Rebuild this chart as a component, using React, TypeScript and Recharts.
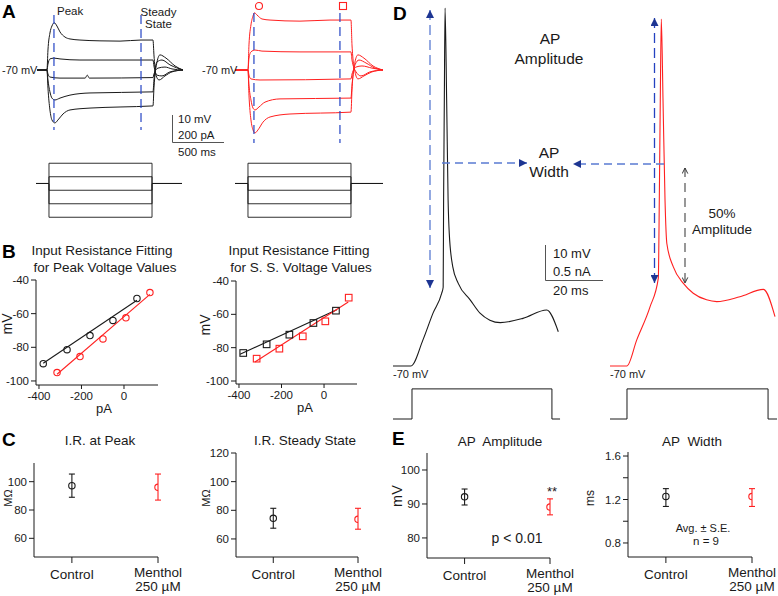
import React from "react";
import { ComposedChart, Line, Scatter, ErrorBar, XAxis, YAxis, ReferenceLine } from "recharts";

const FONT = "'Liberation Sans', Arial, Helvetica, sans-serif";
const INK = "#1a1a1a";
const RED = "#ff2020";
const BLUE = "#2444c4";

type Pair = [number, number];

// ---- A: voltage responses to current steps (ms, mV) ----
const ctlTraces: Pair[][] = [
  [[-94, -70], [0, -70], [9.4, -62.6], [28, -56.3], [47, -53.7], [69, -52.5], [94, -53.7], [123, -55.9], [170, -57.8], [217, -58.5], [311, -58.9], [500, -59.2], [689, -59.3], [887, -58.9], [1000, -58.9], [1009, -64.4], [1028, -71.9], [1057, -73.7], [1113, -72.2], [1179, -70.7], [1283, -70]],
  [[-94, -70], [0, -70], [9.4, -67.8], [28, -65.9], [66, -65.6], [123, -65.9], [311, -66.3], [1000, -66.3], [1009, -68.5], [1038, -71.9], [1085, -72.2], [1160, -70.7], [1283, -70]],
  [[-94, -70], [0, -70], [9.4, -71.5], [28, -72.6], [123, -73], [360, -73], [380, -71.9], [400, -73], [1000, -72.8], [1009, -71.5], [1047, -69.3], [1113, -68.9], [1179, -69.6], [1283, -70]],
  [[-94, -70], [0, -70], [9.4, -73.7], [28, -78.1], [47, -80.4], [75, -81.1], [123, -80.4], [217, -79.3], [406, -78.5], [1000, -78.1], [1009, -73.7], [1038, -67], [1085, -66.3], [1160, -68.1], [1283, -70]],
  [[-94, -70], [0, -70], [9.4, -76.7], [28, -84.8], [47, -88.5], [75, -89.6], [104, -88.5], [151, -86.3], [217, -84.8], [406, -84.1], [689, -83.7], [1000, -83.3], [1009, -76.7], [1038, -67], [1066, -64.4], [1123, -65.6], [1208, -68.5], [1283, -70]],
];
const menTraces: Pair[][] = [
  [[-126, -70], [0, -70], [9.7, -60.7], [29, -53.3], [49, -50], [63, -48.8], [87, -49.6], [136, -51.1], [214, -51.5], [505, -51.9], [796, -51.5], [1000, -51.5], [1010, -60.7], [1039, -70.7], [1068, -73.3], [1126, -72.2], [1204, -70.7], [1311, -70]],
  [[-126, -70], [0, -70], [9.7, -65.6], [29, -63.3], [68, -62.6], [136, -63], [505, -63.3], [1000, -63.3], [1010, -66.3], [1049, -70.7], [1097, -72.2], [1184, -70.7], [1311, -70]],
  [[-126, -70], [0, -70], [9.7, -71.9], [29, -73.3], [117, -73.7], [1000, -73.3], [1010, -71.5], [1049, -68.9], [1107, -68.5], [1204, -69.3], [1311, -70]],
  [[-126, -70], [0, -70], [9.7, -75.6], [29, -81.1], [49, -84.1], [68, -84.8], [107, -83.7], [165, -81.9], [311, -80.7], [1000, -80.4], [1010, -75.6], [1039, -68.1], [1078, -66.3], [1146, -67.4], [1233, -69.3], [1311, -70]],
  [[-126, -70], [0, -70], [9.7, -79.3], [29, -88.5], [49, -92.2], [68, -93.3], [97, -92.2], [146, -89.3], [214, -87.4], [408, -86.3], [1000, -85.6], [1010, -77.4], [1039, -67], [1068, -64.4], [1126, -65.6], [1214, -68.5], [1311, -70]],
];
const stepLevels = [150, 50, -50, -150, -250]; // pA
const stepOn = 0;
const stepOff = 1000;
const peakTimes = [66, 58]; // ms, control / menthol
const ssTimes = [887, 893];

// ---- B: I-V fits ----
const peakCtlPA = [-380, -268, -160, -52, 61];
const peakCtlMV = [-89.7, -81.4, -73, -64, -51];
const peakMenPA = [-315, -207, -99, 9, 122];
const peakMenMV = [-95, -85.5, -75, -62.5, -47.5];
const peakCtlFit: Pair[] = [[-380, -89.5], [61, -52]];
const peakMenFit: Pair[] = [[-315, -96], [122, -48.5]];
const ssCtlPA = [-380, -270, -163, -50, 56];
const ssCtlMV = [-83.2, -78, -72.2, -65.2, -57.8];
const ssMenPA = [-317, -210, -100, 6, 116];
const ssMenMV = [-86.6, -80.6, -73.2, -64.2, -50];
const ssCtlFit: Pair[] = [[-395, -84], [60, -57.2]];
const ssMenFit: Pair[] = [[-325, -88.6], [114, -52.6]];

// ---- C / E: mean, low, high ----
const groups = ["Control", "Menthol"];
const irPeak = [[97.2, 89, 105.4], [96, 87, 105.4]];
const irSteady = [[74.4, 67.5, 81.4], [73.7, 66.8, 81.4]];
const apAmplitude = [[92.1, 89.7, 94.4], [89.1, 86.8, 91.5]];
const apWidth = [[1.228, 1.136, 1.3], [1.227, 1.136, 1.3]];

// ---- D: action potentials (ms, mV) and stimulus (nA) ----
const apCtl: Pair[] = [[0, -70], [6.2, -70], [10.3, -62.6], [13.8, -54.9], [16.8, -49.2], [17.3, -47.5], [17.45, -22.6], [17.7, 6], [17.95, 32.3], [18.5, 6], [19.0, -22.6], [19.4, -32.1], [20.6, -41.6], [22.5, -46.4], [26.6, -51.1], [30, -54.9], [33.4, -56.9], [37, -57.6], [44.8, -56.4], [53, -54], [57, -60.2]];
const apMen: Pair[] = [[0, -70], [5.8, -70], [9.2, -62.6], [13.8, -53.1], [16.66, -44.9], [17.0, -22.6], [17.34, 6], [17.69, 29.1], [18.28, 6], [18.97, -22.6], [19.6, -35], [21.8, -41.6], [25.3, -46.4], [28.7, -49.2], [33.3, -51.1], [36.8, -51.6], [44.8, -50.2], [52.9, -48.1], [56.9, -55.9]];
const stimCtl: Pair[] = [[0, 0], [6.55, 0], [6.55, 0.43], [54.8, 0.43], [54.8, 0], [57.6, 0]];
const stimMen: Pair[] = [[0, 0], [5.86, 0], [5.86, 0.43], [54.5, 0.43], [54.5, 0], [57.6, 0]];

const pts = (arr: Pair[]) => arr.map(([x, y]) => ({ x, y }));
const stepTrace = (level: number, t0: number, t1: number): Pair[] => [
  [t0, 0], [stepOn, 0], [stepOn, level], [stepOff, level], [stepOff, 0], [t1, 0],
];

function TraceBox({ left, top, width, height, xDomain, yDomain, traces, color, curve = "monotone", sw = 1, children }: any) {
  return (
    <div style={{ position: "absolute", left, top, width, height }}>
      <ComposedChart width={width} height={height} margin={{ top: 0, right: 0, bottom: 0, left: 0 }}>
        <XAxis type="number" dataKey="x" domain={xDomain} hide allowDataOverflow />
        <YAxis type="number" domain={yDomain} hide allowDataOverflow />
        {traces.map((tr: Pair[], i: number) => (
          <Line key={i} data={pts(tr)} dataKey="y" type={curve} stroke={color} strokeWidth={sw} dot={false} isAnimationActive={false} />
        ))}
        {children}
      </ComposedChart>
    </div>
  );
}

const ring = (color: string) => (p: any) => (
  <circle cx={p.cx} cy={p.cy} r={3.2} fill="none" stroke={color} strokeWidth={1.1} />
);
const box = (color: string) => (p: any) => (
  <rect x={p.cx - 3.3} y={p.cy - 3.3} width={6.6} height={6.6} fill="none" stroke={color} strokeWidth={1.1} />
);

const tickStyle = { fontSize: 11.5, fill: INK };

function FitPanel({ plot, xDomain, yDomain, ctl, men, ctlFit, menFit, shape }: any) {
  const [px, py, pw, ph] = plot;
  const yw = 36, mt = 12, mr = 20, xh = 30;
  return (
    <div style={{ position: "absolute", left: px - yw, top: py - mt }}>
      <ComposedChart width={yw + pw + mr} height={mt + ph + xh} margin={{ top: mt, right: mr, bottom: 0, left: 0 }}>
        <XAxis type="number" dataKey="x" domain={xDomain} allowDataOverflow ticks={[-400, -200, 0]} interval={0}
          tick={tickStyle} tickSize={4} tickMargin={3} stroke={INK} height={xh} />
        <YAxis type="number" domain={yDomain} allowDataOverflow ticks={[-100, -80, -60, -40]} interval={0}
          tick={tickStyle} tickSize={5} tickMargin={2} stroke={INK} width={yw} />
        <Line data={pts(ctlFit)} dataKey="y" type="linear" stroke={INK} strokeWidth={1.1} dot={false} isAnimationActive={false} />
        <Line data={pts(menFit)} dataKey="y" type="linear" stroke={RED} strokeWidth={1.1} dot={false} isAnimationActive={false} />
        <Scatter data={ctl} dataKey="y" shape={shape(INK)} isAnimationActive={false} />
        <Scatter data={men} dataKey="y" shape={shape(RED)} isAnimationActive={false} />
      </ComposedChart>
    </div>
  );
}

function GroupTick({ x, y, payload }: any) {
  const lines = payload.value === 0 ? [groups[0]] : [groups[1], "250 µM"];
  return (
    <text x={x} y={y} textAnchor="middle" fontSize={13.5} fill={INK}>
      {lines.map((s, i) => (
        <tspan key={s} x={x} dy={lines.length === 1 ? 14 : i === 0 ? 12 : 13.5}>{s}</tspan>
      ))}
    </text>
  );
}

function StatPanel({ plot, yDomain, yTicks, labelled, stats, digits = 0 }: any) {
  const [px, py, pw, ph] = plot;
  const yw = 38, mt = 12, mr = 32, xh = 45;
  const series = stats.map(([m, lo, hi]: number[], i: number) => [{ x: i, y: m, err: [m - lo, hi - m] }]);
  return (
    <div style={{ position: "absolute", left: px - yw, top: py - mt }}>
      <ComposedChart width={yw + pw + mr} height={mt + ph + xh} margin={{ top: mt, right: mr, bottom: 0, left: 0 }}>
        <XAxis type="number" dataKey="x" domain={[-0.44, 1]} allowDataOverflow ticks={[0, 1]} interval={0}
          tick={<GroupTick />} tickSize={6} tickMargin={2} stroke={INK} height={xh} />
        <YAxis type="number" domain={yDomain} allowDataOverflow ticks={yTicks} interval={0}
          tickFormatter={(v: number) => (labelled.some((l: number) => Math.abs(l - v) < 1e-6) ? v.toFixed(digits) : "")}
          tick={tickStyle} tickSize={5} tickMargin={2} stroke={INK} width={yw} />
        {series.map((d: any, i: number) => (
          <Scatter key={i} data={d} dataKey="y" shape={ring(i === 0 ? INK : RED)} isAnimationActive={false}>
            <ErrorBar dataKey="err" direction="y" width={3} stroke={i === 0 ? INK : RED} strokeWidth={1.1} />
          </Scatter>
        ))}
      </ComposedChart>
    </div>
  );
}

function Txt({ x, y, s, size = 12, anchor = "middle", bold = false, rot = false, color = INK }: any) {
  return (
    <text x={x} y={y} fontSize={size} textAnchor={anchor} dominantBaseline="central" fill={color}
      fontWeight={bold ? "bold" : "normal"} style={{ whiteSpace: "pre" }}
      transform={rot ? `rotate(-90 ${x} ${y})` : undefined}>{s}</text>
  );
}

function Letter({ x, y, s }: any) {
  return <text x={x} y={y} fontSize={19} fontWeight="bold" fill="#000">{s}</text>;
}

function Overlay() {
  const lightBlue = "#5a7bd2";
  const navy = "#1d3592";
  return (
    <svg width={778} height={596} style={{ position: "absolute", left: 0, top: 0, pointerEvents: "none" }}>
      <defs>
        <marker id="tri" viewBox="0 0 10 10" refX="10" refY="5" markerWidth="8" markerHeight="8" orient="auto-start-reverse" markerUnits="userSpaceOnUse">
          <path d="M0,0 L10,5 L0,10 z" fill={navy} />
        </marker>
        <marker id="chev" viewBox="0 0 10 10" refX="9" refY="5" markerWidth="7" markerHeight="7" orient="auto-start-reverse" markerUnits="userSpaceOnUse">
          <path d="M1,1 L9,5 L1,9" fill="none" stroke="#333" strokeWidth={1.4} />
        </marker>
      </defs>

      {/* A */}
      <Letter x={2} y={18} s="A" />
      <Txt x={57} y={11} s="Peak" size={11.5} anchor="start" />
      <Txt x={158.5} y={12} s="Steady" size={11.5} />
      <Txt x={158.5} y={24} s="State" size={11.5} />
      <Txt x={2} y={70} s="-70 mV" size={11} anchor="start" />
      <Txt x={202} y={70} s="-70 mV" size={11} anchor="start" />
      <circle cx={259} cy={6} r={3.5} fill="none" stroke={RED} strokeWidth={1.1} />
      <rect x={339.5} y={2.5} width={7} height={7} fill="none" stroke={RED} strokeWidth={1.1} />
      <path d="M172.5,115 L172.5,142.5 L224,142.5" fill="none" stroke="#555" strokeWidth={1} />
      <Txt x={178} y={119} s="10 mV" size={11.5} anchor="start" />
      <Txt x={178} y={135} s="200 pA" size={11.5} anchor="start" />
      <Txt x={178} y={152} s="500 ms" size={11.5} anchor="start" />

      {/* B */}
      <Letter x={2} y={258} s="B" />
      <Txt x={102} y={250} s="Input Resistance Fitting" size={13.5} />
      <Txt x={105} y={267} s="for Peak Voltage Values" size={13.5} />
      <Txt x={299} y={250} s="Input Resistance Fitting" size={13.5} />
      <Txt x={301} y={267} s="for S. S. Voltage Values" size={13.5} />
      <Txt x={7} y={324} s="mV" size={14} rot />
      <Txt x={205} y={325} s="mV" size={14} rot />
      <Txt x={104} y={408} s="pA" size={13} />
      <Txt x={305} y={407} s="pA" size={13} />

      {/* C */}
      <Letter x={2} y={446} s="C" />
      <Txt x={100} y={440} s="I.R. at Peak" size={13.5} />
      <Txt x={305} y={440} s="I.R. Steady State" size={13.5} />
      <Txt x={7.5} y={498} s="MΩ" size={11} rot />
      <Txt x={206} y={498} s="MΩ" size={11} rot />

      {/* D */}
      <Letter x={393} y={20} s="D" />
      <line x1={430} y1={10} x2={430} y2={288} stroke={lightBlue} strokeWidth={1.3} strokeDasharray="10 5" markerStart="url(#tri)" markerEnd="url(#tri)" />
      <line x1={654.5} y1={18} x2={654.5} y2={283} stroke="#2442c0" strokeWidth={1.3} strokeDasharray="10 5" markerStart="url(#tri)" markerEnd="url(#tri)" />
      <line x1={442} y1={163} x2={527} y2={163} stroke={lightBlue} strokeWidth={1.3} strokeDasharray="8 5" markerEnd="url(#tri)" />
      <line x1={664} y1={164} x2={573} y2={164} stroke={lightBlue} strokeWidth={1.3} strokeDasharray="8 5" markerEnd="url(#tri)" />
      <line x1={685} y1={168} x2={685} y2={283} stroke="#444" strokeWidth={1.1} strokeDasharray="9 6" markerStart="url(#chev)" markerEnd="url(#chev)" />
      <Txt x={550} y={38} s="AP" size={15.5} />
      <Txt x={549} y={58} s="Amplitude" size={15.5} />
      <Txt x={549} y={152.5} s="AP" size={15.5} />
      <Txt x={549} y={171} s="Width" size={15.5} />
      <Txt x={722} y={213} s="50%" size={13.5} />
      <Txt x={722} y={229} s="Amplitude" size={13.5} />
      <path d="M545.5,245 L545.5,280.5 L603,280.5" fill="none" stroke="#555" strokeWidth={1} />
      <Txt x={553} y={253} s="10 mV" size={13} anchor="start" />
      <Txt x={553} y={271} s="0.5 nA" size={13} anchor="start" />
      <Txt x={553} y={290} s="20 ms" size={13} anchor="start" />
      <Txt x={393} y={374} s="-70 mV" size={11} anchor="start" />
      <Txt x={610} y={374} s="-70 mV" size={11} anchor="start" />

      {/* E */}
      <Letter x={392} y={445} s="E" />
      <Txt x={500} y={441} s="AP  Amplitude" size={13.5} />
      <Txt x={692} y={441} s="AP  Width" size={13.5} />
      <Txt x={397} y={496} s="mV" size={14.5} rot />
      <Txt x={590} y={498} s="ms" size={12} rot />
      <Txt x={552} y={491} s="**" size={13} />
      <Txt x={517} y={538} s="p < 0.01" size={14} />
      <Txt x={703} y={528} s="Avg. ± S.E." size={11} />
      <Txt x={706} y={541} s="n = 9" size={11.5} />
    </svg>
  );
}

export default function App() {
  const aY: [number, number] = [-99.63, -44.07];
  const iY: [number, number] = [-344.4, 248.1];
  const dY: [number, number] = [-74, 34.571];
  const sY: [number, number] = [-0.157, 0.557];
  const dash = "9 5";
  return (
    <div style={{ position: "fixed", left: 0, top: 0, width: 778, height: 596, background: "#fff", fontFamily: FONT, overflow: "hidden" }}>
      {/* A: voltage traces */}
      <TraceBox left={37} top={0} width={146} height={150} xDomain={[-94, 1283]} yDomain={aY} traces={ctlTraces} color={INK}>
        <ReferenceLine segment={[{ x: peakTimes[0], y: -49.6 }, { x: peakTimes[0], y: -92.2 }]} stroke={BLUE} strokeWidth={1.2} strokeDasharray={dash} />
        <ReferenceLine segment={[{ x: ssTimes[0], y: -49.6 }, { x: ssTimes[0], y: -92.2 }]} stroke={BLUE} strokeWidth={1.2} strokeDasharray={dash} />
      </TraceBox>
      <TraceBox left={235} top={0} width={148} height={150} xDomain={[-126, 1311]} yDomain={aY} traces={menTraces} color={RED}>
        <ReferenceLine segment={[{ x: peakTimes[1], y: -48.9 }, { x: peakTimes[1], y: -97 }]} stroke={BLUE} strokeWidth={1.2} strokeDasharray={dash} />
        <ReferenceLine segment={[{ x: ssTimes[1], y: -48.9 }, { x: ssTimes[1], y: -97 }]} stroke={BLUE} strokeWidth={1.2} strokeDasharray={dash} />
      </TraceBox>
      {/* A: current steps */}
      <TraceBox left={36} top={150} width={146} height={80} xDomain={[-126, 1291]} yDomain={iY}
        traces={stepLevels.map((l) => stepTrace(l, -126, 1291))} color={INK} curve="linear" sw={0.9} />
      <TraceBox left={235} top={150} width={148} height={80} xDomain={[-126, 1311]} yDomain={iY}
        traces={stepLevels.map((l) => stepTrace(l, -126, 1311))} color={INK} curve="linear" sw={0.9} />

      {/* B */}
      <FitPanel plot={[36, 280, 122, 105]} xDomain={[-414, 160]} yDomain={[-102.4, -40]}
        ctl={peakCtlPA.map((x, i) => ({ x, y: peakCtlMV[i] }))} men={peakMenPA.map((x, i) => ({ x, y: peakMenMV[i] }))}
        ctlFit={peakCtlFit} menFit={peakMenFit} shape={ring} />
      <FitPanel plot={[236, 281, 121, 103]} xDomain={[-414, 155]} yDomain={[-101.8, -40]}
        ctl={ssCtlPA.map((x, i) => ({ x, y: ssCtlMV[i] }))} men={ssMenPA.map((x, i) => ({ x, y: ssMenMV[i] }))}
        ctlFit={ssCtlFit} menFit={ssMenFit} shape={box} />

      {/* C */}
      <StatPanel plot={[34, 463, 124, 94]} yDomain={[46.8, 113.2]} yTicks={[60, 80, 100]} labelled={[60, 80, 100]} stats={irPeak} />
      <StatPanel plot={[236, 453, 122, 104]} yDomain={[47.4, 120]} yTicks={[60, 80, 100, 120]} labelled={[60, 80, 100, 120]} stats={irSteady} />

      {/* D: action potentials */}
      <TraceBox left={393} top={0} width={170} height={380} xDomain={[0, 58.62]} yDomain={dY} traces={[apCtl]} color={INK} sw={1.1} />
      <TraceBox left={610} top={0} width={168} height={380} xDomain={[0, 57.93]} yDomain={dY} traces={[apMen]} color={RED} sw={1.1} />
      <TraceBox left={393} top={380} width={170} height={50} xDomain={[0, 58.62]} yDomain={sY} traces={[stimCtl]} color={INK} curve="linear" />
      <TraceBox left={610} top={380} width={168} height={50} xDomain={[0, 57.93]} yDomain={sY} traces={[stimMen]} color={INK} curve="linear" />

      {/* E */}
      <StatPanel plot={[427, 453, 123, 105]} yDomain={[74.1, 105]} yTicks={[80, 90, 100]} labelled={[80, 90, 100]} stats={apAmplitude} />
      <StatPanel plot={[628, 452, 124, 105]} yDomain={[0.671, 1.637]} yTicks={[0.8, 1.0, 1.2, 1.4, 1.6]} labelled={[0.8, 1.2, 1.6]} stats={apWidth} digits={1} />

      <Overlay />
    </div>
  );
}
